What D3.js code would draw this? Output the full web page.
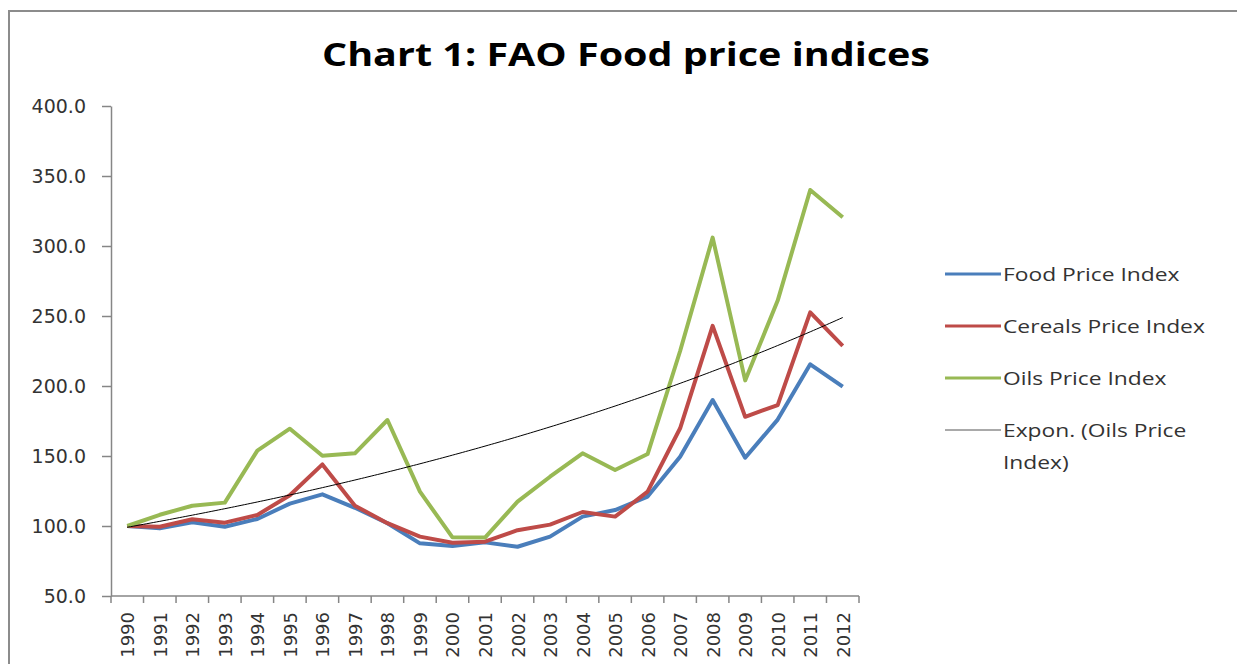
<!DOCTYPE html>
<html lang="en">
<head>
    <meta charset="UTF-8">
    <script src="https://cdn.jsdelivr.net/npm/d3@7"></script>
    <style>
        body{
            margin:0;
            background:#fff;
        }
        svg text{
            fill:#333;
        }
        .axis path, .axis line{
            stroke:#868686;
            stroke-width:1.5;
        }
    </style>
    <title>FAO Food price indices</title>
</head>
<body>
    <script>
        var years = ["1990","1991","1992","1993","1994","1995","1996","1997","1998","1999","2000",
            "2001","2002","2003","2004","2005","2006","2007","2008","2009","2010","2011","2012"];
        var food = [100,98.3,102.6,99.5,105,116,122.6,113,102,87.6,85.7,
            88.3,85.2,92.4,106.7,111.4,121,149.5,190,148.8,176,215.5,199.5];
        var cereals = [100,99.5,104.8,102.4,107.9,122,144,114.5,102,92.4,88,
            88.8,97,101,110,106.7,124.5,169.8,243,178,186.4,252.6,228.6];
        var oils = [100,108,114.5,116.7,153.8,169.5,150.2,151.9,175.7,124.5,91.9,
            91.7,117.4,135.2,151.9,140,151.4,225,306,204,261,340,320.5];
        var yTicks = [50,100,150,200,250,300,350,400];

        var series = [
            {name:"Food Price Index", values:food, color:"#4a7ebb"},
            {name:"Cereals Price Index", values:cereals, color:"#be4b48"},
            {name:"Oils Price Index", values:oils, color:"#98b954"}
        ];

        var width = 1237, height = 664;
        var svg = d3.select("body").append("svg")
            .attr("width",width)
            .attr("height",height);

        // outer chart border
        svg.append("rect")
            .attr("x",9).attr("y",11)
            .attr("width",1240).attr("height",670)
            .attr("fill","none")
            .attr("stroke","#8c8c8c")
            .attr("stroke-width",2);

        svg.append("text")
            .attr("x",322).attr("y",66)
            .attr("textLength",608)
            .attr("lengthAdjust","spacingAndGlyphs")
            .style("font-family","'Open Sans', sans-serif")
            .style("font-weight","bold")
            .style("font-size","33px")
            .style("fill","#000")
            .text("Chart 1: FAO Food price indices");

        var x = d3.scaleBand().domain(years).range([111,859]);
        var y = d3.scaleLinear().domain([50,400]).range([596,106]);

        var yAxis = svg.append("g")
            .attr("class","axis")
            .attr("transform","translate(111,0)")
            .call(d3.axisLeft(y).tickValues(yTicks).tickSize(9).tickSizeOuter(0)
                .tickFormat(d3.format(".1f")));
        yAxis.selectAll("text")
            .attr("x",-25)
            .style("font-family","'DejaVu Sans', sans-serif")
            .style("font-size","19px")
            .style("fill","#333");

        // category axis: ticks at the band edges
        var xAxis = svg.append("g")
            .attr("class","axis")
            .attr("transform","translate(0,596)");
        xAxis.append("line")
            .attr("x1",x.range()[0]).attr("x2",x.range()[1]);
        xAxis.selectAll(".edge")
            .data(years.concat(["end"]))
            .enter().append("line")
            .attr("class","edge")
            .attr("x1",function(d,i){ return x.range()[0]+i*x.step(); })
            .attr("x2",function(d,i){ return x.range()[0]+i*x.step(); })
            .attr("y1",0).attr("y2",7);
        xAxis.selectAll("text")
            .data(years)
            .enter().append("text")
            .attr("transform",function(d){
                return "translate("+(x(d)+x.bandwidth()/2+7)+",16) rotate(-90)";
            })
            .attr("text-anchor","end")
            .style("font-family","'DejaVu Sans', sans-serif")
            .style("font-size","18px")
            .text(function(d){ return d; });

        var cx = function(i){ return x(years[i])+x.bandwidth()/2; };
        var line = d3.line()
            .x(function(d,i){ return cx(i); })
            .y(function(d){ return y(d); });

        svg.selectAll(".series")
            .data(series)
            .enter().append("path")
            .attr("class","series")
            .attr("d",function(s){ return line(s.values); })
            .attr("fill","none")
            .attr("stroke",function(s){ return s.color; })
            .attr("stroke-width",4)
            .attr("stroke-linejoin","round");

        // exponential trend fitted on the oils series
        var n = oils.length, sx = 0, sy = 0, sxx = 0, sxy = 0;
        oils.forEach(function(v,i){
            var l = Math.log(v);
            sx += i; sy += l; sxx += i*i; sxy += i*l;
        });
        var b = (n*sxy - sx*sy)/(n*sxx - sx*sx);
        var a = (sy - b*sx)/n;
        var trend = d3.range(0, n-1+0.001, 0.1).map(function(t){
            return [t, Math.exp(a+b*t)];
        });
        svg.append("path")
            .attr("d",d3.line()
                .x(function(d){ return x(years[0])+x.bandwidth()/2+d[0]*x.step(); })
                .y(function(d){ return y(d[1]); })(trend))
            .attr("fill","none")
            .attr("stroke","#000")
            .attr("stroke-width",1);

        var legend = [
            {name:["Food Price Index"], color:"#4a7ebb", w:3},
            {name:["Cereals Price Index"], color:"#be4b48", w:3},
            {name:["Oils Price Index"], color:"#98b954", w:3},
            {name:["Expon. (Oils Price","Index)"], color:"#555", w:1}
        ];
        var lg = svg.selectAll(".legend")
            .data(legend)
            .enter().append("g")
            .attr("class","legend")
            .attr("transform",function(d,i){ return "translate(945,"+(274+i*52)+")"; });
        lg.append("line")
            .attr("x1",0).attr("x2",56)
            .attr("stroke",function(d){ return d.color; })
            .attr("stroke-width",function(d){ return d.w; });
        lg.append("text")
            .attr("transform","translate(58,7) scale(1.2,1)")
            .style("font-family","'Open Sans', sans-serif")
            .style("font-size","19px")
            .selectAll("tspan")
            .data(function(d){ return d.name; })
            .enter().append("tspan")
            .attr("x",0)
            .attr("dy",function(d,i){ return i===0 ? 0 : 32; })
            .text(function(d){ return d; });
    </script>
</body>
</html>
